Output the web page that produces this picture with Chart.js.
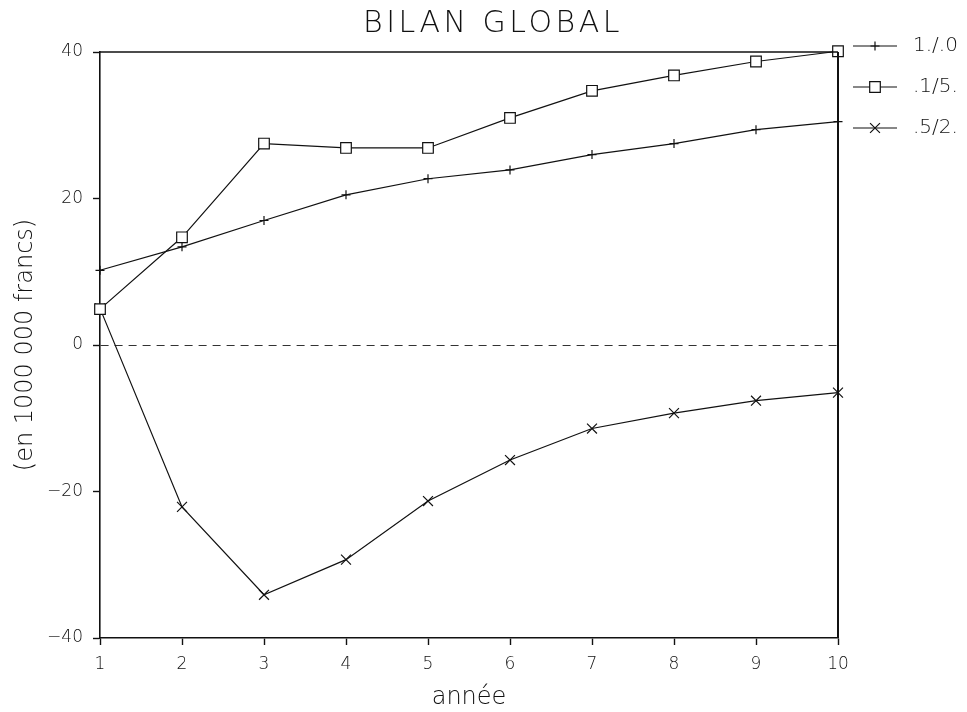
<!DOCTYPE html>
<html>
<head>
<meta charset="utf-8">
<title>Bilan global</title>
<script src="https://cdn.jsdelivr.net/npm/chart.js@4/dist/chart.umd.min.js"></script>
<style>
  html, body { margin: 0; padding: 0; background: #fff; }
  canvas { display: block; }
</style>
</head>
<body>
<canvas id="bilan" width="967" height="712"></canvas>
<script>
// Years on the horizontal axis
const years = [1, 2, 3, 4, 5, 6, 7, 8, 9, 10];
const yTicks = [-40, -20, 0, 20, 40];

// Global balance per scenario, in 1000 000 francs
const serie10 = [10.2, 13.4, 17.0, 20.5, 22.7, 23.9, 26.0, 27.5, 29.4, 30.5];
const serie15 = [4.9, 14.7, 27.5, 26.9, 26.9, 31.0, 34.7, 36.8, 38.7, 40.1];
const serie52 = [5.0, -22.1, -34.1, -29.3, -21.3, -15.7, -11.4, -9.3, -7.6, -6.5];

const seriesNames = ['1./.0', '.1/5.', '.5/2.'];

const FONT = '"DejaVu Sans", "Liberation Sans", sans-serif';
const INK = '#111';

function points(values) {
  return years.map((x, i) => ({ x: x, y: values[i] }));
}

// Closes the plot frame (top and right edges)
const framePlugin = {
  id: 'frame',
  afterDatasetsDraw(chart) {
    const { ctx, chartArea: a } = chart;
    ctx.save();
    ctx.strokeStyle = INK;
    ctx.lineWidth = 1.4;
    ctx.beginPath();
    ctx.moveTo(a.left, a.top);
    ctx.lineTo(a.right, a.top);
    ctx.stroke();
    ctx.lineWidth = 2;
    ctx.beginPath();
    ctx.moveTo(a.right, a.top);
    ctx.lineTo(a.right, a.bottom);
    ctx.stroke();
    ctx.restore();
  }
};

// Title and line-style legend on the right
const decorPlugin = {
  id: 'decor',
  afterDraw(chart) {
    const { ctx, chartArea: a } = chart;
    ctx.save();
    ctx.fillStyle = INK;
    ctx.font = '200 30px ' + FONT;
    ctx.textAlign = 'center';
    ctx.textBaseline = 'middle';
    if ('letterSpacing' in ctx) ctx.letterSpacing = '3.5px';
    ctx.fillText('BILAN GLOBAL', 493, 24);
    if ('letterSpacing' in ctx) ctx.letterSpacing = '0px';

    chart.data.datasets.forEach((ds, i) => {
      const y = 46 + i * 41;
      const x0 = a.right + 15, x1 = a.right + 59;
      ctx.strokeStyle = INK;
      ctx.lineWidth = 1.2;
      ctx.beginPath();
      ctx.moveTo(x0, y);
      ctx.lineTo(x1, y);
      ctx.stroke();
      const opts = {
        pointStyle: ds.pointStyle,
        radius: ds.pointRadius,
        borderWidth: 1.2
      };
      ctx.strokeStyle = INK;
      ctx.fillStyle = ds.pointBackgroundColor || '#fff';
      Chart.helpers.drawPoint(ctx, opts, (x0 + x1) / 2, y);
      ctx.fillStyle = INK;
      ctx.font = '200 20px ' + FONT;
      ctx.textAlign = 'left';
      ctx.textBaseline = 'middle';
      ctx.fillText(ds.label, a.right + 75, y);
    });
    ctx.restore();
  }
};

const baseDataset = {
  borderColor: INK,
  borderWidth: 1.2,
  pointBorderColor: INK,
  pointBorderWidth: 1.2,
  tension: 0,
  clip: false
};

new Chart(document.getElementById('bilan'), {
  type: 'line',
  data: {
    datasets: [
      Object.assign({}, baseDataset, {
        label: seriesNames[0], data: points(serie10),
        pointStyle: 'cross', pointRadius: 4.5, pointBackgroundColor: INK
      }),
      Object.assign({}, baseDataset, {
        label: seriesNames[1], data: points(serie15),
        pointStyle: 'rect', pointRadius: 7.5, pointBackgroundColor: '#fff'
      }),
      Object.assign({}, baseDataset, {
        label: seriesNames[2], data: points(serie52),
        pointStyle: 'crossRot', pointRadius: 7, pointBackgroundColor: INK
      })
    ]
  },
  options: {
    responsive: false,
    animation: false,
    events: [],
    layout: { padding: { top: 52, right: 129, left: 0, bottom: 0 } },
    plugins: {
      legend: { display: false },
      title: { display: false },
      tooltip: { enabled: false }
    },
    scales: {
      x: {
        type: 'linear',
        min: 1,
        max: 10,
        afterFit(scale) { scale.height = 74; },
        afterBuildTicks(scale) { scale.ticks = years.map(v => ({ value: v })); },
        grid: {
          drawOnChartArea: false,
          drawTicks: true,
          tickLength: 7,
          tickColor: INK,
          tickWidth: 1.4
        },
        border: { display: true, color: INK, width: 1.6 },
        ticks: {
          color: INK,
          padding: 9,
          font: { family: FONT, size: 17, weight: '200' }
        },
        title: {
          display: true,
          text: 'année',
          color: INK,
          padding: { top: 5, bottom: 0 },
          font: { family: FONT, size: 24, weight: '200' }
        }
      },
      y: {
        min: -40,
        max: 40,
        afterFit(scale) { scale.width = 100; },
        afterBuildTicks(scale) { scale.ticks = yTicks.map(v => ({ value: v })); },
        grid: {
          drawOnChartArea: true,
          color: ctx => (ctx.tick && ctx.tick.value === 0 ? '#333' : 'rgba(0,0,0,0)'),
          lineWidth: 1,
          drawTicks: true,
          tickLength: 7,
          tickColor: INK,
          tickWidth: 1.4,
          tickBorderDash: []
        },
        border: { display: true, color: INK, width: 1.6, dash: [8, 6] },
        ticks: {
          color: INK,
          padding: 10,
          font: { family: FONT, size: 17, weight: '200' },
          callback: v => (v < 0 ? '\u2212' + Math.abs(v) : String(v))
        },
        title: {
          display: true,
          text: '(en 1000 000 francs)',
          color: INK,
          padding: { top: 11, bottom: 0 },
          font: { family: FONT, size: 24, weight: '200' }
        }
      }
    }
  },
  plugins: [framePlugin, decorPlugin]
});
</script>
</body>
</html>
